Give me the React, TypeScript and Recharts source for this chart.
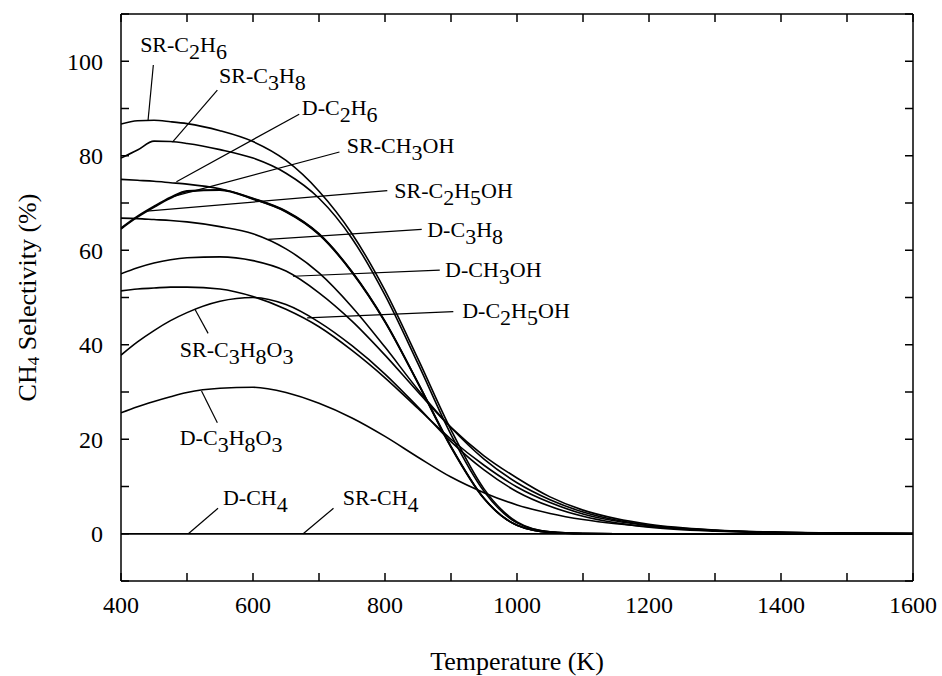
import React from 'react';
import { LineChart, Line, XAxis, YAxis, ReferenceLine, ReferenceDot } from 'recharts';

// Temperature grid (K)
const temperatures = [400, 425, 450, 475, 500, 550, 600, 650, 700, 750, 800, 850, 900, 950, 1000, 1050, 1100, 1150, 1200, 1300, 1400, 1500, 1600];

// CH4 selectivity (%) per reaction
const srC2H6 = [86.7, 87.4, 87.5, 87.2, 86.8, 85.3, 83.0, 79.0, 72.5, 63.5, 51.5, 37.0, 22.0, 9.5, 2.5, 0.4, 0.05, 0, 0, 0, 0, 0, 0];
const srC3H8 = [79.5, 81.2, 83.1, 83.0, 82.6, 81.3, 79.5, 76.3, 71.0, 62.5, 50.5, 36.0, 21.0, 9.0, 2.3, 0.4, 0.05, 0, 0, 0, 0, 0, 0];
const dC2H6 = [75.0, 74.8, 74.6, 74.3, 74.0, 73.0, 71.0, 68.3, 63.5, 55.5, 45.0, 32.0, 18.5, 7.5, 1.8, 0.3, 0.04, 0, 0, 0, 0, 0, 0];
const srCH3OH = [64.7, 67.2, 69.3, 71.2, 72.6, 72.8, 70.9, 68.2, 63.4, 55.4, 44.9, 31.9, 18.4, 7.5, 1.8, 0.3, 0.04, 0, 0, 0, 0, 0, 0];
const srC2H5OH = [64.5, 67.0, 69.1, 71.0, 72.4, 72.7, 70.8, 68.1, 63.3, 55.3, 44.8, 31.8, 18.3, 7.4, 1.8, 0.3, 0.04, 0, 0, 0, 0, 0, 0];
const dC3H8 = [66.8, 66.7, 66.5, 66.3, 66.0, 65.0, 63.5, 60.3, 55.2, 48.0, 39.5, 30.5, 22.5, 15.8, 10.8, 7.2, 4.6, 2.9, 1.8, 0.75, 0.3, 0.12, 0.05];
const dCH3OH = [55.0, 56.3, 57.3, 58.0, 58.4, 58.6, 57.8, 55.6, 51.0, 45.0, 37.8, 30.0, 22.5, 16.5, 11.8, 7.8, 5.0, 3.2, 2.0, 0.8, 0.32, 0.12, 0.05];
const dC2H5OH = [51.4, 51.8, 52.0, 52.2, 52.2, 51.8, 50.2, 47.5, 43.8, 38.8, 33.0, 26.5, 20.0, 14.5, 9.9, 6.6, 4.2, 2.7, 1.7, 0.7, 0.28, 0.11, 0.04];
const srC3H8O3 = [37.8, 40.6, 43.0, 45.1, 46.8, 49.2, 50.0, 48.5, 44.8, 39.8, 33.8, 26.8, 19.5, 13.5, 8.9, 5.8, 3.7, 2.3, 1.4, 0.55, 0.22, 0.09, 0.04];
const dC3H8O3 = [25.6, 26.9, 28.0, 29.0, 29.9, 30.8, 31.0, 29.9, 27.6, 24.5, 20.6, 16.2, 12.0, 8.7, 6.1, 4.3, 3.0, 2.1, 1.5, 0.7, 0.3, 0.13, 0.05];
const dCH4 = [0, 0, 0, 0, 0, 0, 0, 0, 0, 0, 0, 0, 0, 0, 0, 0, 0, 0, 0, 0, 0, 0, 0];
const srCH4 = [0, 0, 0, 0, 0, 0, 0, 0, 0, 0, 0, 0, 0, 0, 0, 0, 0, 0, 0, 0, 0, 0, 0];

const seriesList: [string, number[]][] = [
  ['srC2H6', srC2H6],
  ['srC3H8', srC3H8],
  ['dC2H6', dC2H6],
  ['srCH3OH', srCH3OH],
  ['srC2H5OH', srC2H5OH],
  ['dC3H8', dC3H8],
  ['dCH3OH', dCH3OH],
  ['dC2H5OH', dC2H5OH],
  ['srC3H8O3', srC3H8O3],
  ['dC3H8O3', dC3H8O3],
  ['dCH4', dCH4],
  ['srCH4', srCH4],
];

const xTicks = [400, 500, 600, 700, 800, 900, 1000, 1100, 1200, 1300, 1400, 1500, 1600];
const yTicks = [-10, 0, 10, 20, 30, 40, 50, 60, 70, 80, 90, 100, 110];

// Annotations: label text (with _n subscripts), text anchor (T, %), leader from / to (T, %)
const annotations = [
  { text: 'SR-C_2H_6', at: [429, 101.9], from: [449, 99.2], to: [441, 87.5] },
  { text: 'SR-C_3H_8', at: [548.5, 95.3], from: [546, 93.9], to: [478, 82.9] },
  { text: 'D-C_2H_6', at: [674, 88.6], from: [670, 88.8], to: [484, 74.5] },
  { text: 'SR-CH_3OH', at: [742, 80.5], from: [731, 80.8], to: [477, 71.3] },
  { text: 'SR-C_2H_5OH', at: [814, 71], from: [803.5, 72.6], to: [439, 68.3] },
  { text: 'D-C_3H_8', at: [864, 62.8], from: [855.6, 64.4], to: [623, 62.3] },
  { text: 'D-CH_3OH', at: [891, 54.3], from: [883, 55.8], to: [660.6, 54.5] },
  { text: 'D-C_2H_5OH', at: [917, 45.7], from: [903.5, 47], to: [682, 45.7] },
  { text: 'SR-C_3H_8O_3', at: [489, 37.4], from: [512, 47.5], to: [532, 42.4] },
  { text: 'D-C_3H_8O_3', at: [489, 18.8], from: [522, 30.2], to: [546, 23.5] },
  { text: 'D-CH_4', at: [554.5, 6.1], from: [547, 5.4], to: [502, 0] },
  { text: 'SR-CH_4', at: [736, 6.1], from: [722, 5.4], to: [676, 0] },
];

const data = temperatures.map((t, i) => {
  const row: Record<string, number> = { T: t };
  seriesList.forEach(([k, arr]) => {
    row[k] = arr[i];
  });
  return row;
});

const FONT = '"Liberation Serif", "Times New Roman", serif';

function renderSubText(text: string, x: number, y: number, fontSize: number) {
  const parts: { s: string; sub: boolean }[] = [];
  let i = 0;
  let buf = '';
  while (i < text.length) {
    if (text[i] === '_') {
      if (buf) parts.push({ s: buf, sub: false });
      buf = '';
      parts.push({ s: text[i + 1], sub: true });
      i += 2;
    } else {
      buf += text[i];
      i += 1;
    }
  }
  if (buf) parts.push({ s: buf, sub: false });
  const shift = Math.round(fontSize * 0.3);
  let cur = 0;
  return (
    <text x={x} y={y} fontSize={fontSize} fontFamily={FONT} fill="#000">
      {parts.map((p, idx) => {
        const target = p.sub ? shift : 0;
        const dy = target - cur;
        cur = target;
        return (
          <tspan key={idx} dy={dy}>
            {p.s}
          </tspan>
        );
      })}
    </text>
  );
}

export default function App() {
  return (
    <div style={{ width: 942, height: 676 }}>
      <style>{'body{margin:0;overflow:hidden;background:#fff}'}</style>
      <LineChart width={942} height={676} data={data} margin={{ top: 13, right: 28, left: 0, bottom: 0 }}>
        <XAxis
          dataKey="T"
          type="number"
          domain={[400, 1600]}
          ticks={xTicks}
          allowDataOverflow
          height={95}
          tickSize={-8}
          tickMargin={23}
          axisLine={{ stroke: '#000', strokeWidth: 1.5 }}
          tickLine={{ stroke: '#000', strokeWidth: 1.5 }}
          tick={{ fill: '#000', fontSize: 24, fontFamily: FONT }}
          tickFormatter={(v: number) => (v % 200 === 0 ? String(v) : '')}
          label={(props: any) => {
            const vb = props.viewBox || {};
            return (
              <text x={vb.x + vb.width / 2} y={vb.y + 89} textAnchor="middle" fontSize={26} fontFamily={FONT} fill="#000">
                Temperature (K)
              </text>
            );
          }}
        />
        <XAxis
          xAxisId="top"
          orientation="top"
          dataKey="T"
          type="number"
          domain={[400, 1600]}
          ticks={xTicks}
          allowDataOverflow
          height={1}
          tickSize={-8}
          axisLine={{ stroke: '#000', strokeWidth: 1.5 }}
          tickLine={{ stroke: '#000', strokeWidth: 1.5 }}
          tickFormatter={() => ''}
        />
        <YAxis
          type="number"
          domain={[-10, 110]}
          ticks={yTicks}
          allowDataOverflow
          width={121}
          tickSize={-8}
          tickMargin={26}
          axisLine={{ stroke: '#000', strokeWidth: 1.5 }}
          tickLine={{ stroke: '#000', strokeWidth: 1.5 }}
          tick={{ fill: '#000', fontSize: 24, fontFamily: FONT }}
          tickFormatter={(v: number) => (v >= 0 && v <= 100 && v % 20 === 0 ? String(v) : '')}
          label={(props: any) => {
            const vb = props.viewBox || {};
            const cx = vb.x + 27;
            const cy = vb.y + vb.height / 2;
            return (
              <text
                x={cx}
                y={cy}
                transform={`rotate(-90, ${cx}, ${cy})`}
                textAnchor="middle"
                dominantBaseline="central"
                fontSize={26}
                fontFamily={FONT}
                fill="#000"
              >
                <tspan>CH</tspan>
                <tspan fontSize={17} dy={6}>4</tspan>
                <tspan dy={-6}> Selectivity (%)</tspan>
              </text>
            );
          }}
        />
        <YAxis
          yAxisId="right"
          orientation="right"
          type="number"
          domain={[-10, 110]}
          ticks={yTicks}
          allowDataOverflow
          width={1}
          tickSize={-8}
          axisLine={{ stroke: '#000', strokeWidth: 1.5 }}
          tickLine={{ stroke: '#000', strokeWidth: 1.5 }}
          tickFormatter={() => ''}
        />
        {seriesList.map(([k]) => (
          <Line
            key={k}
            dataKey={k}
            type="monotone"
            stroke="#000"
            strokeWidth={1.6}
            dot={false}
            activeDot={false}
            isAnimationActive={false}
          />
        ))}
        {annotations.map((a, i) => (
          <ReferenceLine
            key={'l' + i}
            segment={[
              { x: a.from[0], y: a.from[1] },
              { x: a.to[0], y: a.to[1] },
            ]}
            stroke="#000"
            strokeWidth={1.2}
          />
        ))}
        {annotations.map((a, i) => (
          <ReferenceDot
            key={'t' + i}
            x={a.at[0]}
            y={a.at[1]}
            r={0}
            shape={(p: any) => renderSubText(a.text, p.cx, p.cy, 22)}
          />
        ))}
      </LineChart>
    </div>
  );
}
